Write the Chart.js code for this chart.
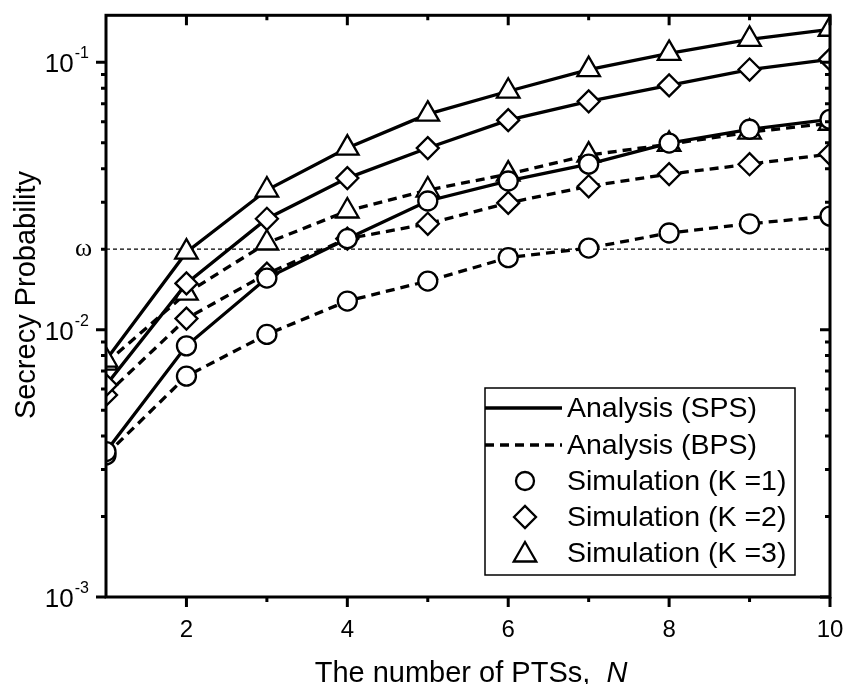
<!DOCTYPE html>
<html><head><meta charset="utf-8">
<script src="https://cdn.jsdelivr.net/npm/chart.js@4"></script>
<style>html,body{margin:0;padding:0;background:#fff}#wrap{width:846px;height:684px}</style>
</head><body><div id="wrap"><canvas id="c" width="846" height="684"></canvas></div>
<script>
const N = [1, 2, 3, 4, 5, 6, 7, 8, 9, 10];
const spsK1 = [0.0035, 0.0087, 0.0156, 0.0219, 0.0303, 0.036, 0.0416, 0.0499, 0.0562, 0.0612];
const spsK2 = [0.0062, 0.0149, 0.026, 0.0369, 0.0478, 0.0608, 0.0715, 0.082, 0.094, 0.1026];
const spsK3 = [0.0077, 0.0195, 0.0333, 0.0478, 0.064, 0.078, 0.094, 0.108, 0.122, 0.133];
const bpsK1 = [0.0034, 0.0067, 0.0096, 0.0128, 0.0152, 0.0186, 0.0202, 0.023, 0.0249, 0.0266];
const bpsK2 = [0.0057, 0.011, 0.0162, 0.0219, 0.0249, 0.0298, 0.0344, 0.0382, 0.0416, 0.0454];
const bpsK3 = [0.0075, 0.0137, 0.0211, 0.0278, 0.0333, 0.0382, 0.045, 0.0494, 0.0548, 0.0592];
const omega = 0.02;
const yMajorTicks = [0.001, 0.01, 0.1];
const yTickLabels = [['10', '-3'], ['10', '-2'], ['10', '-1']];
const xMajorTicks = [2, 4, 6, 8, 10];
const xTickLabels = ['2', '4', '6', '8', '10'];
const xMinorTicks = [3, 5, 7, 9];
const legendLabels = ['Analysis (SPS)', 'Analysis (BPS)', 'Simulation (K =1)', 'Simulation (K =2)', 'Simulation (K =3)'];
const xTitle = 'The number of PTSs,';
const xTitleVar = 'N';
const yTitle = 'Secrecy Probability';

const pts = arr => N.map((n, i) => ({x: n, y: arr[i]}));
function ds(arr, dashed, shape, r) {
  return {
    data: pts(arr), borderColor: '#000', borderWidth: 3.3, borderDash: dashed ? [9, 6] : [],
    pointStyle: shape, pointRadius: r, pointBackgroundColor: '#fff', pointBorderColor: '#000',
    pointBorderWidth: 2.3, tension: 0, fill: false, clip: 0
  };
}
const datasets = [
  ds(spsK3, false, 'triangle', 13), ds(spsK2, false, 'rectRot', 11), ds(spsK1, false, 'circle', 9.5),
  ds(bpsK3, true, 'triangle', 13), ds(bpsK2, true, 'rectRot', 11), ds(bpsK1, true, 'circle', 9.5),
  {data: [{x: 1, y: omega}, {x: 10, y: omega}], borderColor: '#000', borderWidth: 1.3, borderDash: [4, 3], pointRadius: 0, clip: 0}
];

const FONT = '"Liberation Sans", Arial, sans-serif';
const deco = {
  id: 'deco',
  afterDraw(chart) {
    const ctx = chart.ctx, a = chart.chartArea, xs = chart.scales.x, ys = chart.scales.y;
    ctx.save();
    ctx.strokeStyle = '#000'; ctx.fillStyle = '#000'; ctx.setLineDash([]);
    ctx.lineWidth = 3;
    ctx.strokeRect(a.left, a.top, a.right - a.left, a.bottom - a.top);
    const xt = (v, len) => {
      const px = xs.getPixelForValue(v);
      ctx.beginPath(); ctx.moveTo(px, a.bottom); ctx.lineTo(px, a.bottom + len);
      ctx.moveTo(px, a.top); ctx.lineTo(px, a.top + len); ctx.stroke();
    };
    xMajorTicks.forEach(v => xt(v, 10));
    xMinorTicks.forEach(v => xt(v, 5));
    const yt = (v, len) => {
      const py = ys.getPixelForValue(v);
      ctx.beginPath(); ctx.moveTo(a.left - len, py); ctx.lineTo(a.left, py);
      ctx.moveTo(a.right, py); ctx.lineTo(a.right - len, py); ctx.stroke();
    };
    yMajorTicks.forEach(v => yt(v, 10));
    for (let d = 0.001; d < 0.2; d *= 10) {
      for (let m = 2; m <= 9; m++) { const v = d * m; if (v <= ys.max) yt(v, 5); }
    }
    ctx.font = '24px ' + FONT; ctx.textAlign = 'center'; ctx.textBaseline = 'alphabetic';
    xMajorTicks.forEach((v, i) => ctx.fillText(xTickLabels[i], xs.getPixelForValue(v), a.bottom + 40));
    yMajorTicks.forEach((v, i) => {
      const py = ys.getPixelForValue(v);
      ctx.font = '16px ' + FONT; ctx.textAlign = 'right';
      const sw = ctx.measureText(yTickLabels[i][1]).width;
      ctx.fillText(yTickLabels[i][1], a.left - 17, py - 4);
      ctx.font = '26px ' + FONT;
      ctx.fillText(yTickLabels[i][0], a.left - 17 - sw - 1, py + 10);
    });
    ctx.font = '26px "Liberation Serif", serif'; ctx.textAlign = 'right';
    ctx.fillText('\u03c9', a.left - 14, ys.getPixelForValue(omega) + 7);
    ctx.font = '29px ' + FONT; ctx.textAlign = 'left';
    const w1 = ctx.measureText(xTitle + '  ').width;
    ctx.font = 'italic 29px ' + FONT;
    const w2 = ctx.measureText(xTitleVar).width;
    const cx = 471, x0 = cx - (w1 + w2) / 2;
    ctx.font = '29px ' + FONT; ctx.fillText(xTitle + '  ', x0, 682);
    ctx.font = 'italic 29px ' + FONT; ctx.fillText(xTitleVar, x0 + w1, 682);
    ctx.save(); ctx.translate(35, 295); ctx.rotate(-Math.PI / 2);
    ctx.font = '29px ' + FONT; ctx.textAlign = 'center'; ctx.fillText(yTitle, 0, 0);
    ctx.restore();
    const bx = 485, by = 388, bw = 310, bh = 187;
    ctx.fillStyle = '#fff'; ctx.fillRect(bx, by, bw, bh);
    ctx.fillStyle = '#000'; ctx.lineWidth = 1.5; ctx.strokeRect(bx, by, bw, bh);
    const rows = [408, 445, 481, 517, 553];
    ctx.font = '28.5px ' + FONT; ctx.textAlign = 'left'; ctx.textBaseline = 'middle';
    legendLabels.forEach((t, i) => ctx.fillText(t, 567, rows[i] + 1));
    ctx.lineWidth = 3.3;
    ctx.beginPath(); ctx.moveTo(bx, rows[0]); ctx.lineTo(562, rows[0]); ctx.stroke();
    ctx.setLineDash([9, 6]); ctx.beginPath(); ctx.moveTo(bx, rows[1]); ctx.lineTo(562, rows[1]); ctx.stroke();
    ctx.setLineDash([]);
    const shapes = [['circle', 9], ['rectRot', 11], ['triangle', 13]];
    ctx.lineWidth = 2.3; ctx.fillStyle = '#fff';
    shapes.forEach((s, i) => {
      Chart.helpers.drawPoint(ctx, {pointStyle: s[0], radius: s[1], borderWidth: 2.3, rotation: 0}, 525, rows[i + 2] + (s[0] === 'triangle' ? 2 : 0));
    });
    ctx.restore();
  }
};

new Chart(document.getElementById('c'), {
  type: 'line',
  data: {datasets},
  options: {
    responsive: false, animation: false, devicePixelRatio: 1,
    layout: {padding: {left: 106, right: 16, top: 14, bottom: 87}},
    scales: {
      x: {type: 'linear', min: 1, max: 10, display: false},
      y: {type: 'logarithmic', min: 0.001, max: 0.15, display: false}
    },
    plugins: {legend: {display: false}, tooltip: {enabled: false}}
  },
  plugins: [deco]
});
</script>
</body></html>
